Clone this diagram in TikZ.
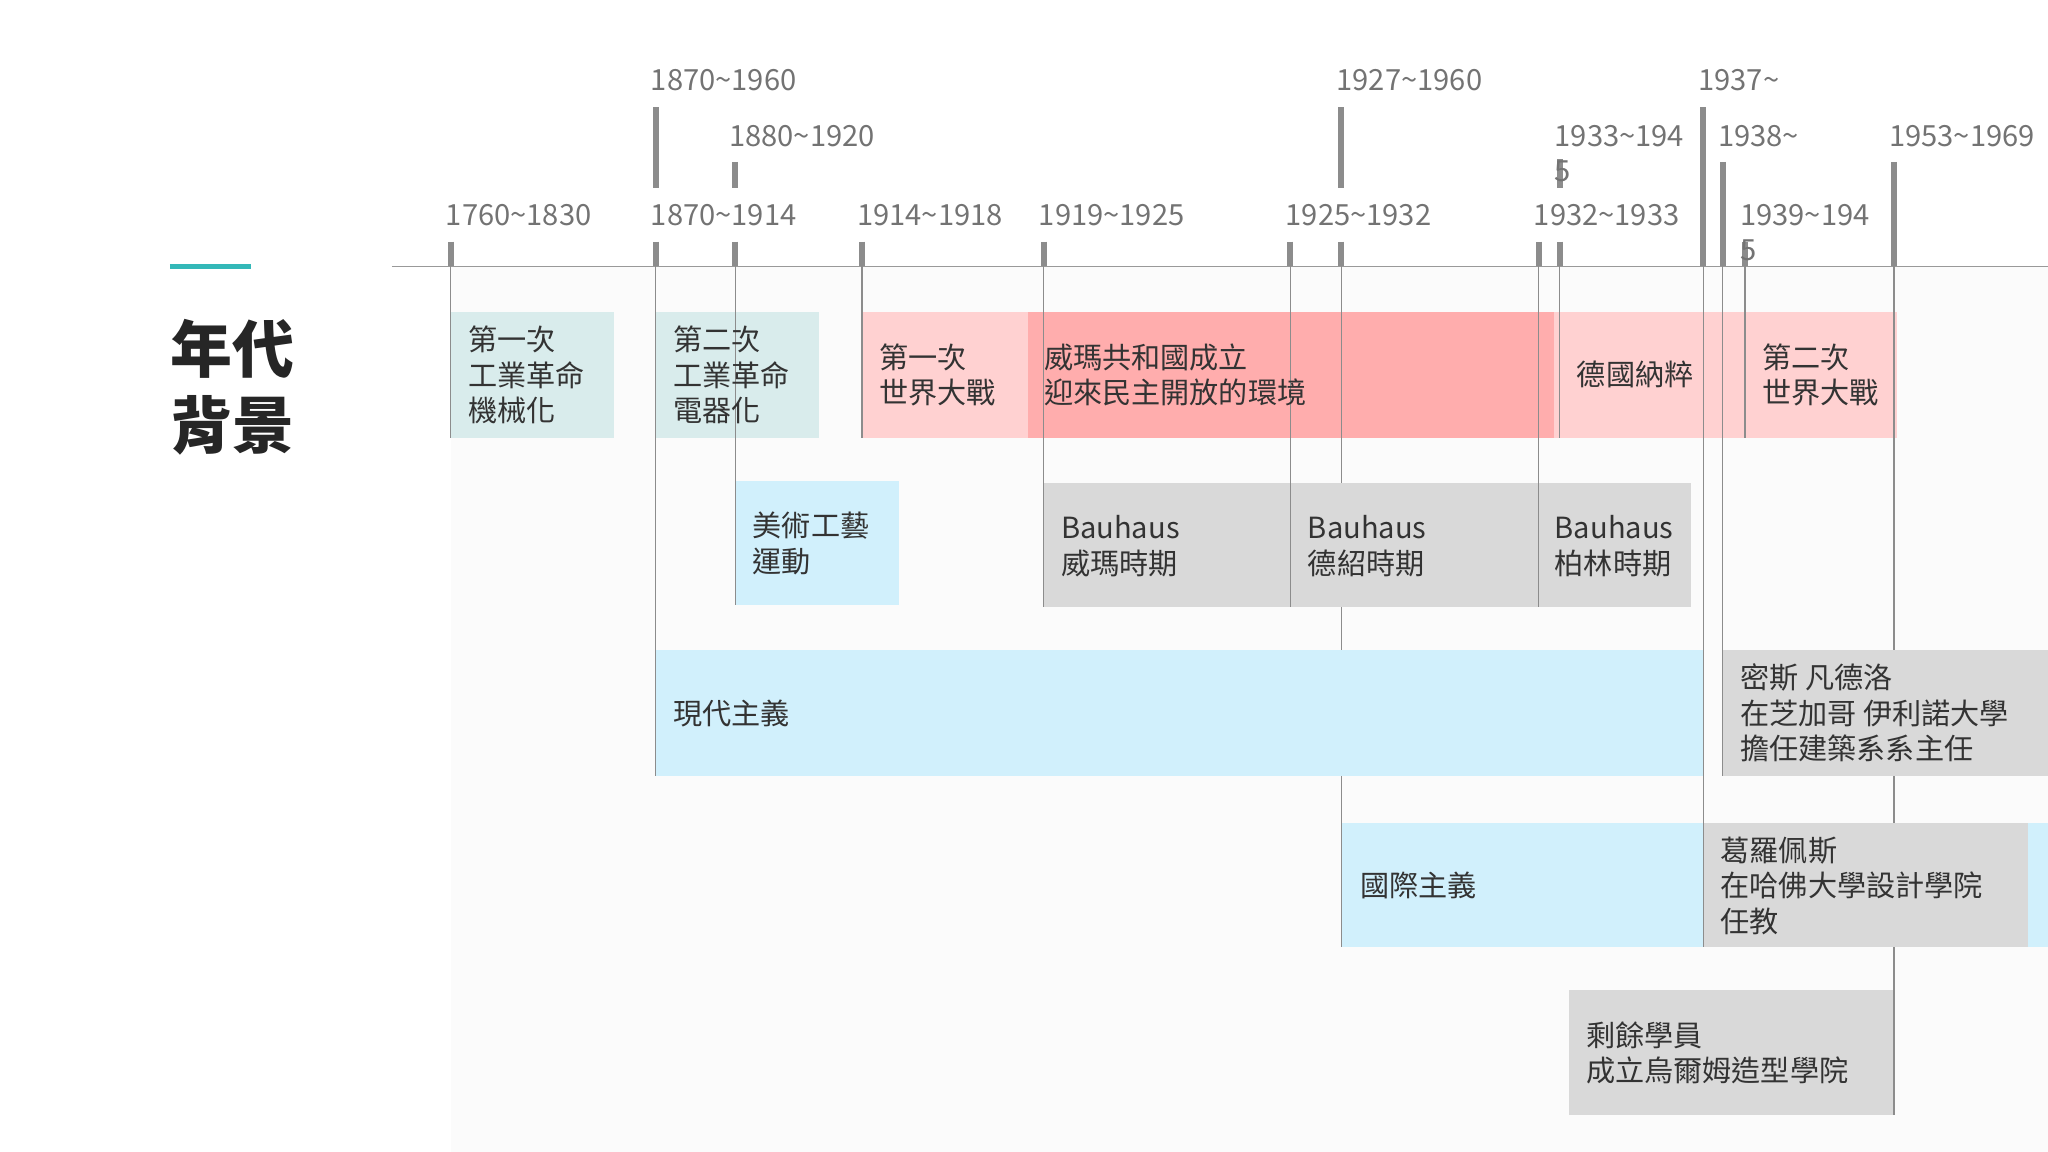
\documentclass[tikz,border=0pt]{standalone}
\usepackage{fontspec}
\setmainfont{Noto Sans CJK TC}
\begin{document}
\begin{tikzpicture}[x=0.02cm,y=-0.02cm,
  yr/.style={text=black!55,font=\fontsize{12.7}{15}\selectfont,anchor=west,inner sep=0},
  bx/.style={text=black!80,font=\fontsize{12.7}{15.5}\selectfont,anchor=west,align=left,inner sep=0},
  tk/.style={line width=2.6pt,black!45},
  vl/.style={line width=0.6pt,black!45}]
\useasboundingbox (0,0) rectangle (1568,882);
\fill[black!1.5] (345,204) rectangle (1568,882);
% title
\draw[line width=2.5pt,teal!70!cyan!80] (130,204) -- (192,204);
\node[anchor=north west,inner sep=0,align=left,font=\fontsize{27}{33}\selectfont\bfseries,text=black!85] (title) at (130,244) {年代\\背景};
% top row boxes
\fill[teal!15] (345,239) rectangle (470,335);
\fill[teal!15] (502,239) rectangle (627,335);
\fill[red!18!white] (660,239) rectangle (1452,335);
\fill[red!32!white] (787,239) rectangle (1190,335);
% axis
\draw[line width=0.6pt,black!40] (300,204) -- (1568,204);
% vertical lines
\foreach \x/\y in {345/335,502/594,563/463,660/335,799/465,988/465,1027/725,1178/465,1194/335,1304/725,1319/594,1336/335,1450/854}
  \draw[vl] (\x,204) -- (\x,\y);
% lower boxes
\fill[cyan!18] (563,368) rectangle (688,463);
\fill[black!15] (799,370) rectangle (1295,465);
\fill[cyan!18] (502,498) rectangle (1304,594);
\fill[black!15] (1319,498) rectangle (1568,594);
\fill[cyan!18] (1027,630) rectangle (1304,725);
\fill[black!15] (1304,630) rectangle (1553,725);
\fill[cyan!18] (1553,630) rectangle (1568,725);
\fill[black!15] (1201,758) rectangle (1450,854);
% edge lines over lower boxes
\foreach \x/\a/\b in {799/370/465,988/370/465,1178/370/465,563/368/463,502/498/594,1319/498/594,1027/630/725,1304/630/725,1450/758/854}
  \draw[vl] (\x,\a) -- (\x,\b);
% ticks
\foreach \x in {345,502,563,660,799,988,1027,1178,1194,1336}
  \draw[tk] (\x,185) -- (\x,204);
\draw[tk] (502,82) -- (502,144);
\draw[tk] (1027,82) -- (1027,144);
\draw[tk] (563,124) -- (563,144);
\draw[tk] (1194,122) -- (1194,144);
\draw[tk] (1304,82) -- (1304,204);
\draw[tk] (1319,124) -- (1319,204);
\draw[tk] (1450,124) -- (1450,204);
% year labels
\node[yr] (y1) at (341,165) {1760\textasciitilde1830};
\node[yr] (y2) at (498,165) {1870\textasciitilde1914};
\node[yr] (y3) at (498,61) {1870\textasciitilde1960};
\node[yr] (y4) at (558,104) {1880\textasciitilde1920};
\node[yr] (y5) at (656,165) {1914\textasciitilde1918};
\node[yr] (y6) at (795,165) {1919\textasciitilde1925};
\node[yr] (y7) at (984,165) {1925\textasciitilde1932};
\node[yr] (y8) at (1023,61) {1927\textasciitilde1960};
\node[yr] (y9) at (1190,104) {1933\textasciitilde194};
\node[yr] (y9b) at (1190,131) {5};
\node[yr] (y10) at (1174,165) {1932\textasciitilde1933};
\node[yr] (y11) at (1300,61) {1937\textasciitilde};
\node[yr] (y12) at (1315,104) {1938\textasciitilde};
\node[yr] (y13) at (1332,165) {1939\textasciitilde194};
\node[yr] (y13b) at (1332,192) {5};
\node[yr] (y14) at (1446,104) {1953\textasciitilde1969};
% box texts
\node[bx] (b1) at (358,287) {第一次\\工業革命\\機械化};
\node[bx] (b2) at (515,287) {第二次\\工業革命\\電器化};
\node[bx] (b3) at (673,287) {第一次\\世界大戰};
\node[bx] (b4) at (799,287) {威瑪共和國成立\\迎來民主開放的環境};
\node[bx] (b5) at (1207,287) {德國納粹};
\node[bx] (b6) at (1349,287) {第二次\\世界大戰};
\node[bx] (b7) at (576,416) {美術工藝\\運動};
\node[bx] (b8) at (812,418) {Bauhaus\\威瑪時期};
\node[bx] (b9) at (1001,418) {Bauhaus\\德紹時期};
\node[bx] (b10) at (1190,418) {Bauhaus\\柏林時期};
\node[bx] (b11) at (515,546) {現代主義};
\node[bx] (b12) at (1332,546) {密斯 凡德洛\\在芝加哥 伊利諾大學\\擔任建築系系主任};
\node[bx] (b13) at (1041,678) {國際主義};
\node[bx] (b14) at (1317,678) {葛羅佩斯\\在哈佛大學設計學院\\任教};
\node[bx] (b15) at (1214,806) {剩餘學員\\成立烏爾姆造型學院};
\end{tikzpicture}
\end{document}
